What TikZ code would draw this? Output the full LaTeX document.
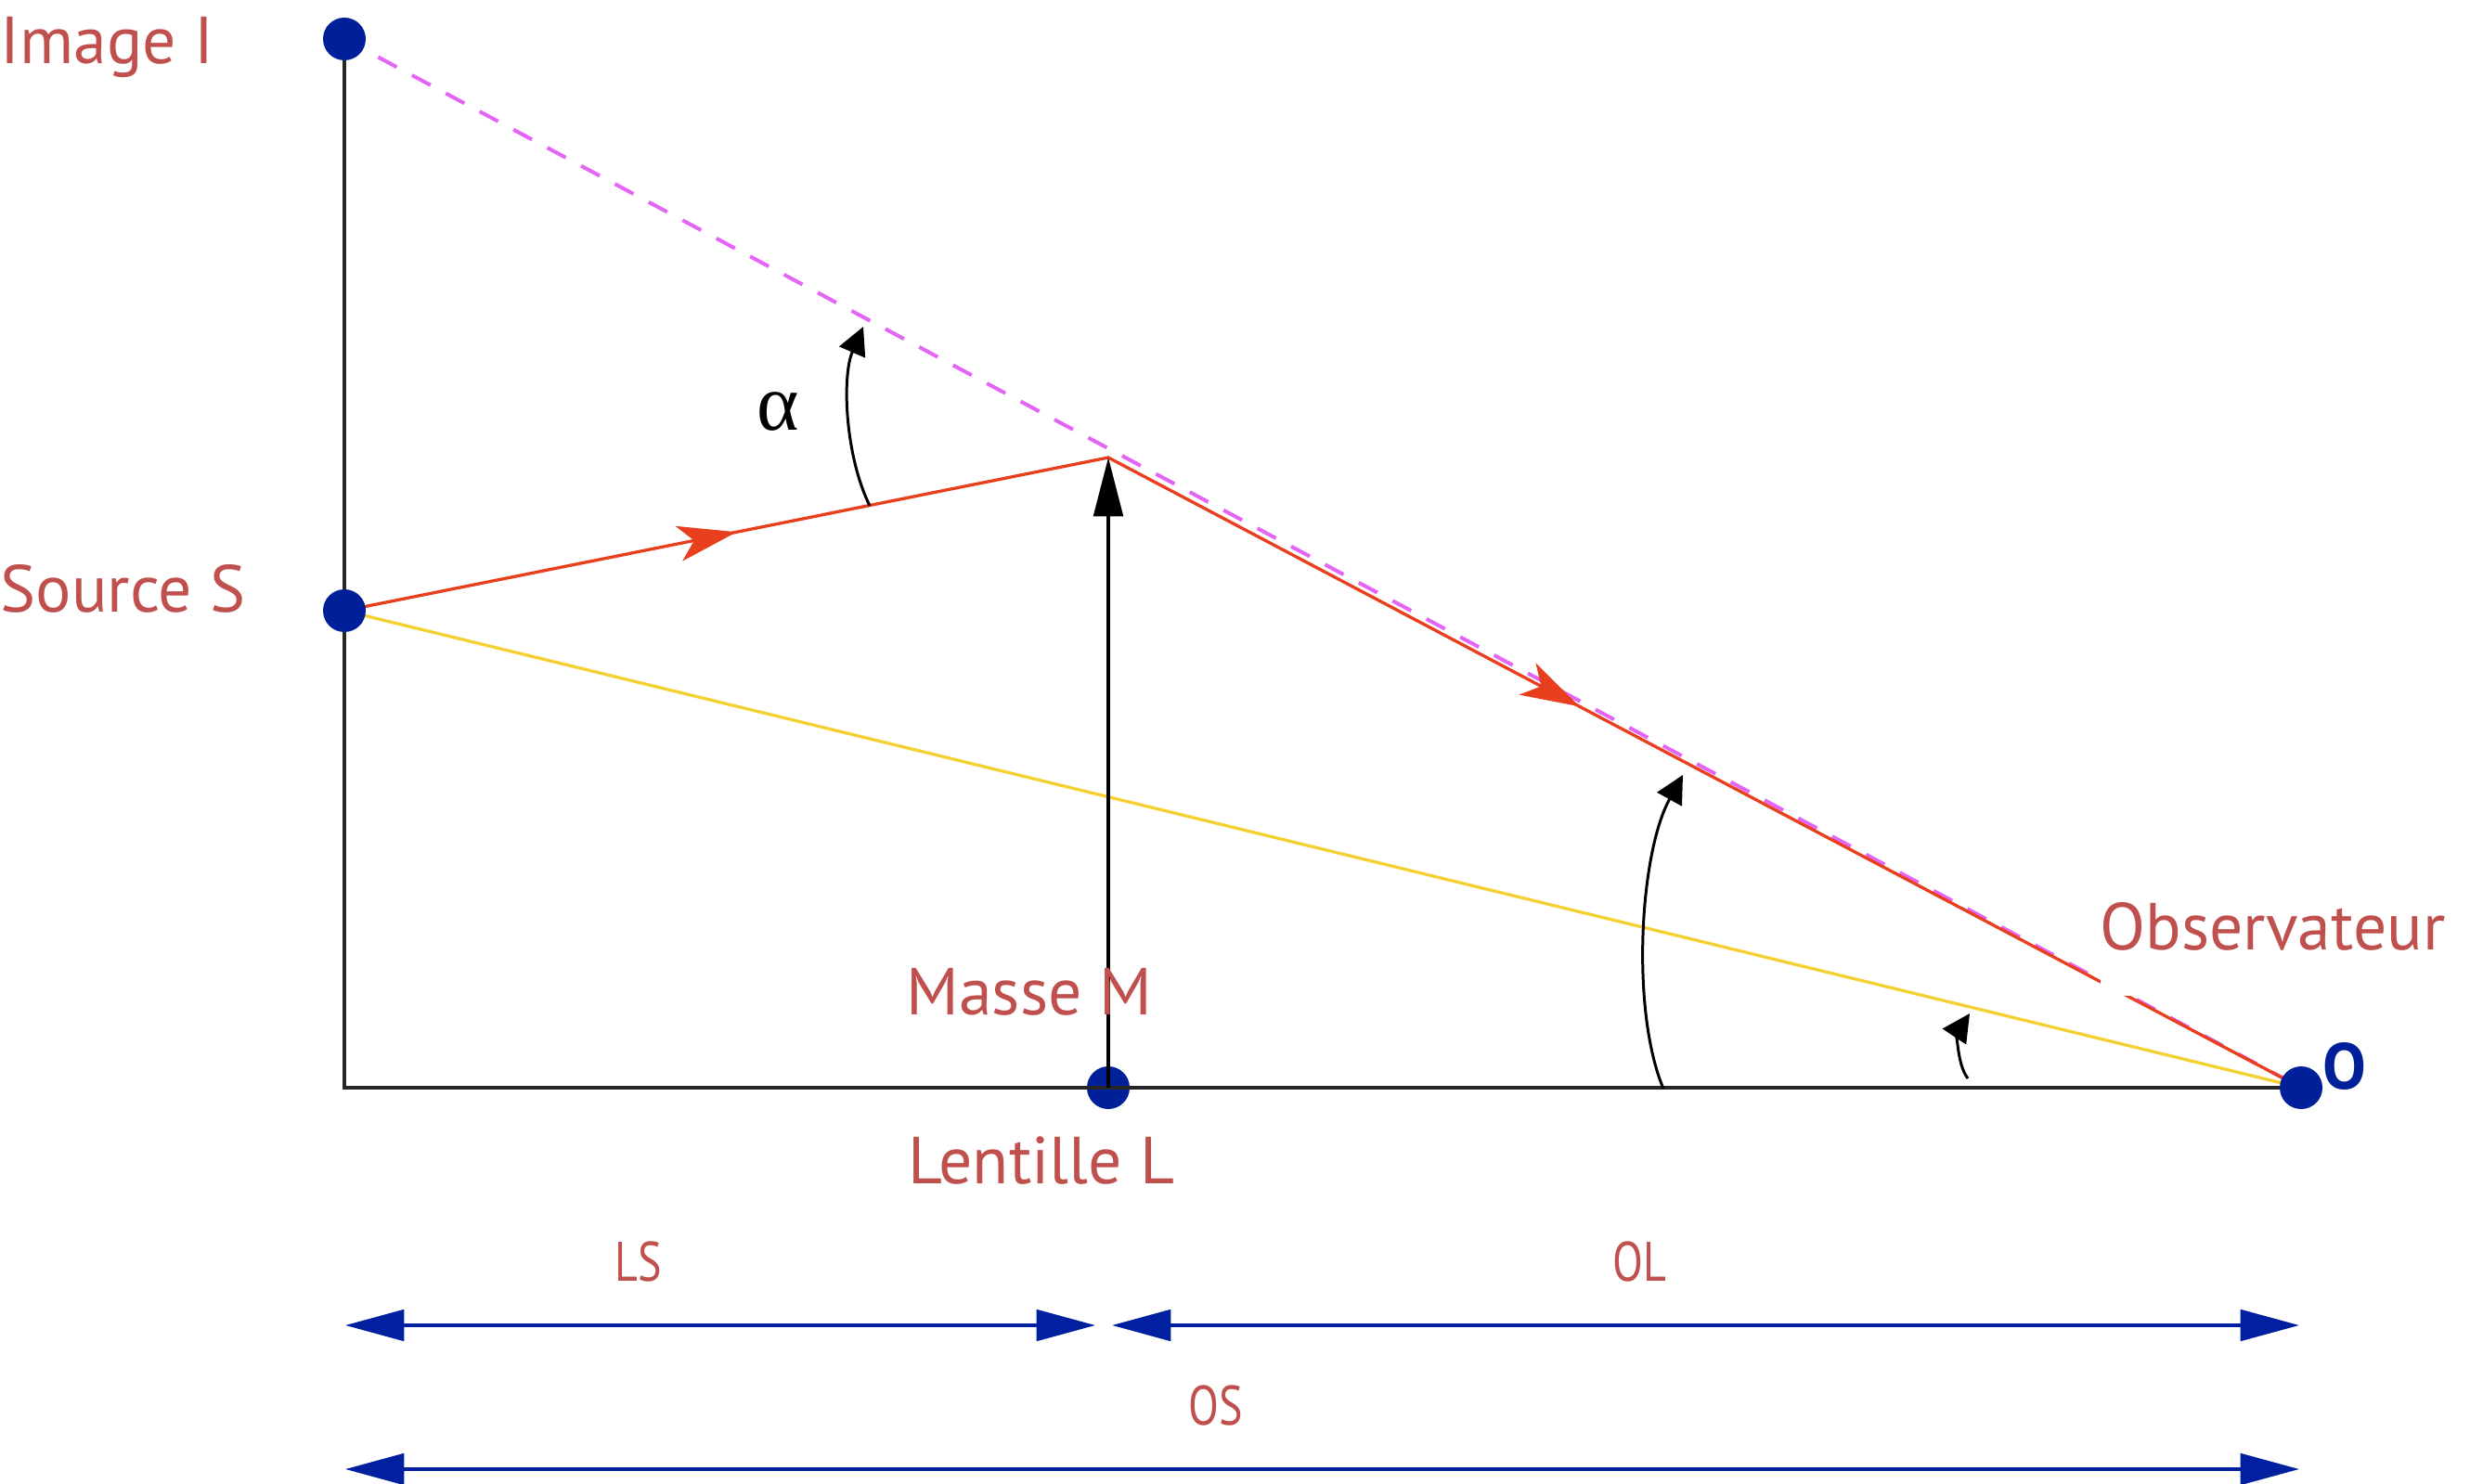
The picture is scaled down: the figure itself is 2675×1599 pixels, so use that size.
\documentclass[tikz,border=0pt]{standalone}
\usepackage{fontspec}
\setmainfont{PT Sans}
\newfontfamily\greekserif{Liberation Serif}
\usetikzlibrary{arrows.meta,decorations.markings}
\definecolor{lblred}{RGB}{192,80,77}
\definecolor{dotblue}{RGB}{0,32,154}
\definecolor{rayred}{RGB}{232,64,30}
\definecolor{violetdash}{RGB}{228,100,245}
\definecolor{rayyellow}{RGB}{245,208,50}
\definecolor{dimblue}{RGB}{0,32,160}
\begin{document}
\begin{tikzpicture}[x=0.3pt,y=-0.3pt,
  dot/.style={circle,fill=dotblue,inner sep=0pt,minimum size=13.8pt},
  lbl/.style={text=lblred,font=\fontsize{21.5}{24}\selectfont,inner sep=0pt,anchor=base west},
  dimlbl/.style={text=lblred,font=\fontsize{18}{20}\selectfont,inner sep=0pt},
  axisline/.style={line width=1pt,black!85},
  ray/.style={line width=1pt,rayred},
  dimarrow/.style={line width=1.2pt,dimblue,{Triangle[length=19pt,width=10pt]}-{Triangle[length=19pt,width=10pt]}},
  anglearc/.style={line width=0.9pt,-{Triangle[length=9pt,width=9pt]}},
  raymarks/.style={postaction={decorate},decoration={markings,
     mark=at position 0.188 with {\arrow{Stealth[length=19pt,width=11.5pt,inset=5pt]}},
     mark=at position 0.6165 with {\arrow{Stealth[length=19pt,width=11.5pt,inset=5pt]}}}}
]
\useasboundingbox (0,0) rectangle (2675,1599);

% key points
\coordinate (I) at (371,42);
\coordinate (S) at (371,658);
\coordinate (L) at (1194,1172);
\coordinate (O) at (2479,1172);
\coordinate (C) at (371,1172);
\coordinate (Mtop) at (1194,493);

% lens dot (lines pass over it)
\node[dot] (Ldot) at (L) {};

% axes
\draw[axisline] (I) -- (C) -- (O);

% rays
\draw[line width=1pt,rayyellow] (S) -- (O);
\draw[line width=1.2pt,violetdash,dash pattern=on 6.8pt off 5.6pt] (I) -- (O);
\draw[ray,raymarks] (S) -- (Mtop) -- (O);

% mass arrow
\draw[line width=1pt,-{Triangle[length=19pt,width=9.5pt]}] (L) -- (Mtop);

% angle arcs
\coordinate (a1s) at (937,545);
\coordinate (a1e) at (930,352);
\draw[anglearc] (a1s) .. controls (910,490) and (907,405) .. (a1e);
\coordinate (a2s) at (1792,1173);
\coordinate (a2e) at (1813,835);
\draw[anglearc] (a2s) .. controls (1757,1090) and (1766,920) .. (a2e);
\coordinate (a3s) at (2120,1162);
\coordinate (a3e) at (2122,1092);
\draw[anglearc] (a3s) .. controls (2107,1145) and (2110,1110) .. (a3e);

% dots
\node[dot] (Idot) at (I) {};
\node[dot] (Sdot) at (S) {};
\node[dot] (Odot) at (O) {};

% labels
\node[lbl] (tI) at (0,69) {Image I};
\node[lbl] (tS) at (0,660) {Source S};
\node[lbl] (tM) at (976,1093) {Masse M};
\node[lbl] (tL) at (978,1275) {Lentille L};
\node[lbl,fill=white,text depth=15pt] (tObs) at (2262,1023) {Observateur};
\node[text=dotblue,font=\fontsize{21}{24}\selectfont\bfseries,inner sep=0pt] (tO) at (2526,1149) {O};
\node[font=\greekserif\fontsize{26}{28}\selectfont,inner sep=0pt] (alpha) at (838,443) {α};

% distance arrows
\coordinate (d1a) at (372,1428);
\coordinate (d1b) at (1180,1428);
\coordinate (d2a) at (1198,1428);
\coordinate (d2b) at (2477,1428);
\coordinate (d3a) at (372,1583);
\coordinate (d3b) at (2477,1583);
\draw[dimarrow] (d1a) -- (d1b);
\draw[dimarrow] (d2a) -- (d2b);
\draw[dimarrow] (d3a) -- (d3b);
\node[dimlbl] (tLS) at (688,1359) {\scalebox{0.8}[1]{LS}};
\node[dimlbl] (tOL) at (1766,1359) {\scalebox{0.8}[1]{OL}};
\node[dimlbl] (tOS) at (1310,1514) {\scalebox{0.8}[1]{OS}};
\end{tikzpicture}
\end{document}
